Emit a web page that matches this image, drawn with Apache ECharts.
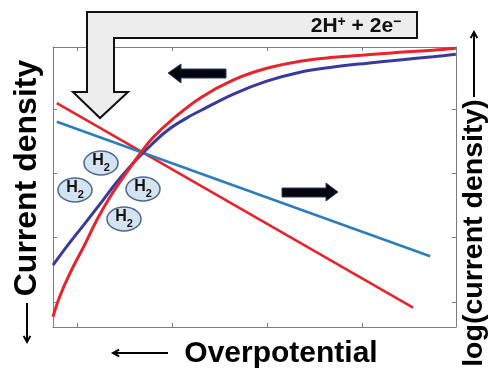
<!DOCTYPE html>
<html><head><meta charset="utf-8">
<script src="https://cdn.jsdelivr.net/npm/echarts@6/dist/echarts.min.js"></script>
<style>html,body{margin:0;padding:0;background:#fff}#chart{width:489px;height:369px}</style>
</head><body><div id="chart"></div>
<script>
// Schematic polarisation curves in arbitrary units:
// x = overpotential, y = current density (curves) / log(current density) (straight Tafel lines)
const xTicks = [0.25, 1.25, 2.25, 3.25];
const yTicks = [0.39, 1.39, 2.39, 3.39];

const redCurve = [
  [0, 0.16], [0.07, 0.47], [0.18, 0.84], [0.32, 1.24], [0.46, 1.66], [0.60, 2.02],
  [0.74, 2.33], [0.92, 2.70], [1.05, 2.94], [1.26, 3.23], [1.55, 3.56], [1.90, 3.84],
  [2.25, 4.02], [2.60, 4.13], [2.95, 4.19], [3.31, 4.23], [3.65, 4.27], [4.00, 4.30], [4.24, 4.33]
];
const blueCurve = [
  [0, 0.96], [0.15, 1.26], [0.32, 1.58], [0.50, 1.92], [0.67, 2.25], [0.84, 2.54],
  [0.95, 2.71], [1.20, 3.05], [1.41, 3.25], [1.55, 3.36], [1.90, 3.62], [2.25, 3.82],
  [2.60, 3.96], [2.95, 4.04], [3.31, 4.10], [3.65, 4.15], [4.00, 4.20], [4.24, 4.24]
];
const redTafel = [[0.04, 3.48], [3.79, 0.30]];
const blueTafel = [[0.04, 3.19], [3.97, 1.10]];

const xTitle = 'Overpotential';
const yLeftTitle = 'Current density';
const yRightTitle = 'log(current density)';
const reactionText = '{b|2H}{p|+}{b| + 2e}{p|\u2212}';
const bubbleText = '{h|H}{s|2}';

const RED = '#e8232b', NAVY = '#3a3a9e', STEEL = '#2d7dbd', FRAME = '#7d7d7d';
const FONT = '"Liberation Sans", Arial, sans-serif';

function axisBase(extra) {
  return Object.assign({
    type: 'value', min: 0,
    axisLine: { show: true, onZero: false, lineStyle: { color: FRAME, width: 1 } },
    axisLabel: { show: false }, splitLine: { show: false }
  }, extra);
}
function ticks(vals) {
  return { show: true, inside: true, length: 4, customValues: vals, lineStyle: { color: FRAME, width: 1 } };
}
function line(data, color, width, smooth) {
  return { type: 'line', data: data, smooth: smooth, showSymbol: false, silent: true,
           lineStyle: { color: color, width: width }, z: 3 };
}

// H2 bubbles
const bubbles = [[101, 163], [75, 190], [143, 189], [124, 219]];
const bubbleEls = [];
bubbles.forEach(function (b) {
  bubbleEls.push({ type: 'ellipse', shape: { cx: b[0], cy: b[1], rx: 17, ry: 12 },
    style: { fill: '#d5e3f1', stroke: '#4d6a8c', lineWidth: 1.5 }, z: 10 });
  bubbleEls.push({ type: 'text', x: b[0], y: b[1], z: 11,
    style: { text: bubbleText, align: 'center', verticalAlign: 'middle',
      rich: {
        h: { fontFamily: FONT, fontWeight: 'bold', fontSize: 16, lineHeight: 20, verticalAlign: 'top', fill: '#111' },
        s: { fontFamily: FONT, fontWeight: 'bold', fontSize: 11, lineHeight: 11, verticalAlign: 'bottom', fill: '#111' }
      } } });
});

function arrowLine(x1, y1, x2, y2) {
  // thin line arrow with an open head at (x2, y2)
  const ang = Math.atan2(y2 - y1, x2 - x1), h = 7, w = 0.5;
  return [
    { type: 'line', shape: { x1: x1, y1: y1, x2: x2, y2: y2 }, style: { stroke: '#000', lineWidth: 2 }, z: 10 },
    { type: 'polyline', shape: { points: [
        [x2 - h * Math.cos(ang - w), y2 - h * Math.sin(ang - w)], [x2, y2],
        [x2 - h * Math.cos(ang + w), y2 - h * Math.sin(ang + w)]] },
      style: { stroke: '#000', lineWidth: 2, fill: null }, z: 10 }
  ];
}

const chart = echarts.init(document.getElementById('chart'), null, { renderer: 'canvas' });
chart.setOption({
  animation: false,
  backgroundColor: '#fff',
  grid: { left: 53, top: 47, width: 403, height: 280 },
  xAxis: [
    axisBase({ max: 4.242, position: 'bottom', axisTick: ticks(xTicks) }),
    axisBase({ max: 4.242, position: 'top', axisTick: ticks(xTicks) })
  ],
  yAxis: [
    axisBase({ max: 4.351, position: 'left', axisTick: ticks(yTicks) }),
    axisBase({ max: 4.351, position: 'right', axisTick: ticks(yTicks) })
  ],
  series: [
    line(redTafel, RED, 2.5, false),
    line(blueTafel, STEEL, 2.5, false),
    line(blueCurve, NAVY, 3, 0.4),
    line(redCurve, RED, 3, 0.4)
  ],
  graphic: [
    // reactant box with bent hollow arrow
    { type: 'polygon', z: 20,
      shape: { points: [[87, 12], [417, 12], [417, 38], [114, 38], [114, 92], [128, 92], [100, 118], [73, 92], [87, 92]] },
      style: { fill: '#ededed', stroke: '#111', lineWidth: 2 } },
    { type: 'text', x: 356, y: 26, z: 21,
      style: { text: reactionText, align: 'center', verticalAlign: 'middle',
        rich: {
          b: { fontFamily: FONT, fontWeight: 'bold', fontSize: 21, lineHeight: 22, verticalAlign: 'bottom', fill: '#111' },
          p: { fontFamily: FONT, fontWeight: 'bold', fontSize: 14, lineHeight: 14, verticalAlign: 'top', fill: '#111' }
        } } },
    // direction arrows
    { type: 'polygon', z: 12,
      shape: { points: [[168, 73], [181, 64], [181, 69], [226, 69], [226, 78], [181, 78], [181, 83]] },
      style: { fill: '#05050f', stroke: '#2c3c6c', lineWidth: 1 } },
    { type: 'polygon', z: 12,
      shape: { points: [[338, 192], [326, 183], [326, 188], [282, 188], [282, 197], [326, 197], [326, 201]] },
      style: { fill: '#05050f', stroke: '#2c3c6c', lineWidth: 1 } },
    // axis titles
    { type: 'text', x: 27, y: 178, rotation: Math.PI / 2, z: 10,
      style: { text: yLeftTitle, font: 'bold 32px ' + FONT, fill: '#000', align: 'center', verticalAlign: 'middle' } },
    { type: 'text', x: 281, y: 354, z: 10,
      style: { text: xTitle, font: 'bold 30px ' + FONT, fill: '#000', align: 'center', verticalAlign: 'middle' } },
    { type: 'text', x: 474, y: 233, rotation: Math.PI / 2, z: 10,
      style: { text: yRightTitle, font: 'bold 28.5px ' + FONT, fill: '#000', align: 'center', verticalAlign: 'middle' } }
  ].concat(bubbleEls, arrowLine(27, 303, 27, 342), arrowLine(168, 353, 113, 353), arrowLine(474, 97, 474, 32))
});
</script>
</body></html>
